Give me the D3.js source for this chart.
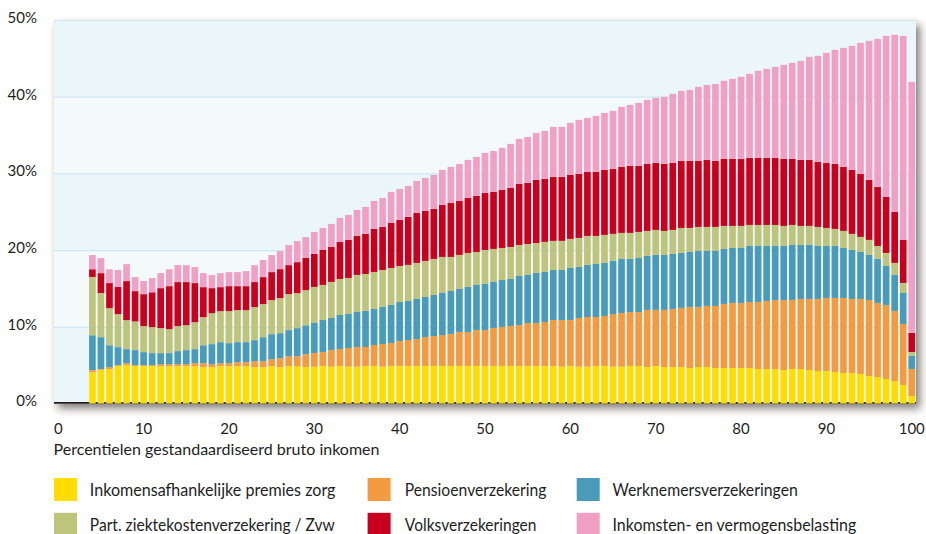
<!DOCTYPE html>
<html>
<head>
<meta charset="utf-8">
<script src="https://cdn.jsdelivr.net/npm/d3@7/dist/d3.min.js"></script>
<style>
  html, body { margin: 0; padding: 0; background: #fff; }
  svg { display: block; font-family: Lato, "Open Sans", sans-serif; }
</style>
</head>
<body>
<svg id="chart" width="926" height="534"></svg>
<script>
// percentielen 4..100 (1-3 hebben geen staaf)
var percentielen = d3.range(4, 101);

var zorg = [
  4.09,4.4,4.48,4.9,5.0,4.9,4.9,4.9,4.87,4.87,
  4.87,4.87,4.87,4.74,4.74,4.87,4.87,4.87,4.87,4.74,
  4.74,4.87,4.74,4.87,4.87,4.76,4.8,4.9,4.8,4.9,
  4.8,4.8,4.9,4.9,4.8,4.9,4.9,4.9,4.9,4.9,
  4.9,4.9,4.9,4.9,4.9,4.9,4.9,4.9,4.9,4.9,
  4.9,4.9,4.9,4.9,4.9,4.8,4.9,4.8,4.8,4.9,
  4.9,4.8,4.8,4.89,4.89,4.76,4.89,4.76,4.76,4.76,
  4.63,4.76,4.76,4.63,4.63,4.63,4.63,4.63,4.5,4.5,
  4.5,4.37,4.5,4.5,4.37,4.24,4.24,4.11,3.98,3.98,
  3.85,3.59,3.46,3.2,2.93,2.41,0.98
];
var pensioen = [
  0.26,0.1,0.26,0.1,0.26,0.1,0.1,0.1,0.26,0.26,
  0.26,0.26,0.39,0.52,0.39,0.39,0.39,0.52,0.52,0.78,
  0.78,0.91,1.17,1.3,1.3,1.67,1.79,1.82,2.18,2.21,
  2.44,2.57,2.47,2.73,2.96,2.99,3.25,3.38,3.51,3.77,
  3.9,4.03,4.17,4.43,4.43,4.69,4.69,4.95,5.08,5.21,
  5.34,5.6,5.6,5.73,5.99,6.09,5.99,6.35,6.48,6.38,
  6.51,6.87,7.0,7.04,7.04,7.44,7.31,7.44,7.57,7.7,
  7.96,7.83,7.96,8.09,8.35,8.48,8.48,8.61,8.74,8.87,
  9.0,9.13,9.0,9.13,9.26,9.39,9.52,9.65,9.78,9.65,
  9.78,9.91,9.65,9.65,9.14,7.96,3.52
];
var werknemers = [
  4.55,4.15,2.86,2.35,1.83,1.96,1.7,1.57,1.44,1.44,
  1.7,1.83,1.83,2.34,2.61,2.74,2.61,2.61,2.61,2.74,
  3.13,3.26,3.26,3.4,3.66,3.77,3.91,4.17,4.17,4.43,
  4.43,4.56,4.7,4.7,4.83,4.96,5.09,5.09,5.22,5.22,
  5.35,5.48,5.6,5.6,5.87,5.87,6.0,6.0,6.13,6.13,
  6.39,6.26,6.52,6.52,6.52,6.52,6.78,6.65,6.79,6.92,
  6.92,6.92,7.05,6.92,7.05,7.04,7.17,7.17,7.17,7.17,
  7.17,7.3,7.17,7.17,7.17,7.17,7.17,7.3,7.3,7.17,
  7.04,7.04,7.17,7.04,7.04,6.91,6.78,6.78,6.52,6.39,
  6.13,5.87,5.74,5.08,4.69,4.04,1.7
];
var zvw = [
  7.6,5.75,4.83,4.3,3.78,3.74,3.39,3.39,3.26,3.13,
  3.26,3.24,3.51,3.66,4.04,4.04,4.17,4.17,4.17,4.31,
  4.31,4.44,4.57,4.69,4.56,4.58,4.7,4.57,4.7,4.7,
  4.7,4.83,4.82,4.82,4.82,4.82,4.69,4.7,4.7,4.7,
  4.7,4.7,4.44,4.44,4.43,4.3,4.43,4.3,4.17,4.17,
  4.04,4.04,3.91,3.92,3.79,3.79,3.79,3.79,3.78,3.65,
  3.65,3.52,3.39,3.39,3.39,3.26,3.26,3.13,3.13,3.26,
  3.13,3.13,3.13,3.13,3.0,2.87,2.87,2.74,2.74,2.74,
  2.74,2.61,2.61,2.48,2.48,2.48,2.35,2.22,2.22,2.09,
  1.96,1.96,1.69,1.7,1.57,1.31,0.52
];
var volks = [
  1.0,2.6,3.27,3.55,5.09,3.95,4.17,4.54,5.21,5.6,
  5.74,5.63,5.1,3.91,3.26,3.13,3.26,3.13,3.13,3.26,
  3.52,3.65,3.78,3.78,4.04,4.22,4.3,4.56,4.56,4.83,
  4.96,5.09,5.22,5.61,5.61,5.87,6.0,6.26,6.52,6.52,
  6.52,6.78,7.04,7.04,7.17,7.31,7.44,7.44,7.57,7.7,
  7.96,7.96,8.22,8.21,8.34,8.34,8.34,8.34,8.35,8.35,
  8.48,8.48,8.61,8.74,8.61,8.74,8.74,8.74,8.74,8.74,
  8.74,8.61,8.74,8.61,8.74,8.74,8.74,8.74,8.74,8.74,
  8.74,8.74,8.61,8.61,8.61,8.48,8.48,8.48,8.35,8.35,
  8.21,7.82,7.7,7.3,6.65,5.61,2.48
];
var belasting = [
  1.85,1.96,1.8,2.2,2.21,1.83,1.7,1.85,1.96,2.2,
  2.21,2.21,2.1,1.83,1.7,1.83,1.83,1.83,1.96,2.21,
  2.22,2.22,2.35,2.61,2.74,2.7,2.87,2.87,3.0,3.13,
  3.26,3.39,3.52,3.65,3.78,4.05,4.05,4.04,4.17,4.3,
  4.43,4.57,4.7,4.83,4.96,5.08,5.21,5.34,5.48,5.74,
  5.87,6.0,6.13,6.26,6.53,6.53,6.79,7.05,7.04,7.3,
  7.43,7.56,7.82,7.95,8.22,8.35,8.48,8.74,9.0,9.13,
  9.26,9.65,9.78,10.04,10.18,10.44,10.7,10.96,11.35,11.61,
  11.87,12.26,12.52,12.91,13.44,13.83,14.35,14.87,15.52,16.17,
  17.09,18.13,19.3,21.0,23.09,26.6,32.73
];

var reeksen = ["zorg", "pensioen", "werknemers", "zvw", "volks", "belasting"];
var labels = [
  "Inkomensafhankelijke premies zorg", "Pensioenverzekering", "Werknemersverzekeringen",
  "Part. ziektekostenverzekering / Zvw", "Volksverzekeringen", "Inkomsten- en vermogensbelasting"
];
var kleuren = ["#ffdd00", "#f39b41", "#4a9bba", "#bec47b", "#c8001e", "#efa0c4"];
var xTicks = [0, 10, 20, 30, 40, 50, 60, 70, 80, 90, 100];
var yTicks = [0, 10, 20, 30, 40, 50];

var waarden = { zorg: zorg, pensioen: pensioen, werknemers: werknemers, zvw: zvw, volks: volks, belasting: belasting };
var tabel = percentielen.map(function(p, i) {
  var row = { p: p };
  reeksen.forEach(function(k) { row[k] = waarden[k][i]; });
  return row;
});

var svg = d3.select("#chart");
var plotL = 54, plotR = 916, plotT = 20, plotB = 403.5;

var x = d3.scaleBand().domain(d3.range(0, 101)).range([plotL, plotR])
  .paddingInner(0.22).paddingOuter(0.11);
var y = d3.scaleLinear().domain([0, 50]).range([plotB, plotT]);

// shadow behind plot area
var defs = svg.append("defs");
var f = defs.append("filter").attr("id", "schaduw")
  .attr("x", "-5%").attr("y", "-5%").attr("width", "115%").attr("height", "125%");
f.append("feDropShadow").attr("dx", 4).attr("dy", 5).attr("stdDeviation", 4)
  .attr("flood-color", "#2a2520").attr("flood-opacity", 0.6);

var bg = svg.append("g");
bg.append("rect").attr("x", plotL).attr("y", plotT).attr("width", plotR - plotL)
  .attr("height", plotB - plotT).attr("fill", "#ebf6fb").attr("filter", "url(#schaduw)");
bg.selectAll("rect.band").data([0, 10, 20, 30, 40]).enter().append("rect")
  .attr("class", "band")
  .attr("x", plotL).attr("width", plotR - plotL)
  .attr("y", function(d) { return y(d + 10); })
  .attr("height", function(d) { return y(d) - y(d + 10); })
  .attr("fill", function(d) { return (d / 10) % 2 ? "#f4f9fc" : "#ebf6fb"; });
bg.selectAll("line.grid").data([10, 20, 30, 40, 50]).enter().append("line")
  .attr("x1", plotL).attr("x2", plotR)
  .attr("y1", function(d) { return y(d) + 0.5; }).attr("y2", function(d) { return y(d) + 0.5; })
  .attr("stroke", "#cfe6f2").attr("stroke-width", 1.2);

// axis line (bars are drawn over it, so it only shows in the gaps)
svg.append("line").attr("x1", plotL).attr("x2", plotR)
  .attr("y1", plotB - 0.6).attr("y2", plotB - 0.6)
  .attr("stroke", "#1a1a1a").attr("stroke-width", 1.6);

var stack = d3.stack().keys(reeksen);
var lagen = stack(tabel);

svg.append("g").selectAll("g").data(lagen).enter().append("g")
  .attr("fill", function(d, i) { return kleuren[i]; })
  .selectAll("rect").data(function(d) { return d; }).enter().append("rect")
  .attr("x", function(d) { return x(d.data.p); })
  .attr("width", x.bandwidth())
  .attr("y", function(d) { return y(d[1]); })
  .attr("height", function(d) { return y(d[0]) - y(d[1]); });

// y axis
var yAxis = svg.append("g").attr("transform", "translate(37,-2.5)")
  .call(d3.axisLeft(y).tickValues(yTicks).tickFormat(function(d) { return d + "%"; })
    .tickSize(0).tickPadding(0));
yAxis.select(".domain").remove();
yAxis.selectAll("text").attr("font-family", "Lato, sans-serif").attr("font-size", 15).attr("fill", "#1e1e1e");

// x axis
var xAxis = svg.append("g").attr("transform", "translate(0,423.5)")
  .call(d3.axisBottom(x).tickValues(xTicks).tickSize(0).tickPadding(0));
xAxis.select(".domain").remove();
xAxis.selectAll("text").attr("font-family", "Lato, sans-serif").attr("font-size", 15).attr("fill", "#1e1e1e");

svg.append("text").attr("x", 53.5).attr("y", 454.5)
  .attr("font-size", 16).attr("fill", "#1e1e1e")
  .attr("textLength", 326).attr("lengthAdjust", "spacingAndGlyphs")
  .text("Percentielen gestandaardiseerd bruto inkomen");

// legend
var legX = [54, 367.6, 576.7];
var legY = [478, 512.8];
var legW = [245.7, 141.6, 185.3, 245, 131.7, 243.7];
var leg = svg.append("g").selectAll("g").data(labels).enter().append("g")
  .attr("transform", function(d, i) { return "translate(" + legX[i % 3] + "," + legY[Math.floor(i / 3)] + ")"; });
leg.append("rect").attr("width", 23).attr("height", 23)
  .attr("fill", function(d, i) { return kleuren[i]; });
leg.append("text").attr("x", function(d, i) { return i % 3 === 1 ? 37.2 : 35.8; }).attr("y", 18.3)
  .attr("font-size", 16.5).attr("fill", "#1e1e1e")
  .attr("textLength", function(d, i) { return legW[i]; }).attr("lengthAdjust", "spacingAndGlyphs")
  .text(function(d) { return d; });
</script>
</body>
</html>
